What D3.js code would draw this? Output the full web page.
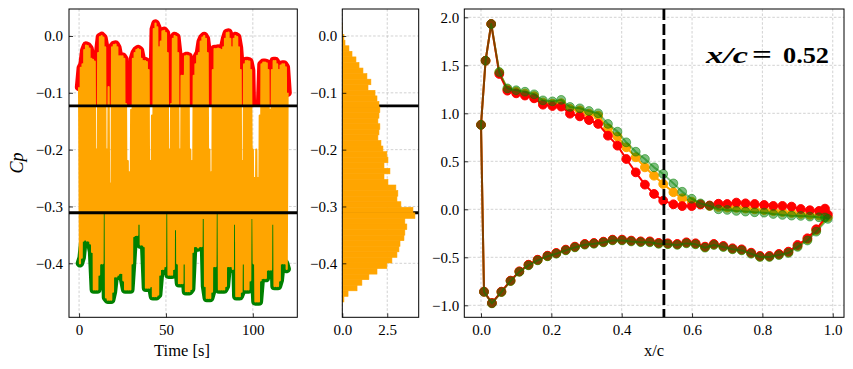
<!DOCTYPE html>
<html><head><meta charset="utf-8">
<script src="https://cdn.jsdelivr.net/npm/d3@7"></script>
<style>
html,body{margin:0;padding:0;background:#fff;}
svg{display:block;}
</style></head><body>
<svg id="chart" width="853" height="369"></svg>
<script>
// ---------------- DATA ----------------
// Panel 1: Cp time series at x/c = 0.52, local maxima (at t = 0,1,...,120 s) and local minima (at t = 0.5,1.5,...)
const sampleStep = 1; // s
const cpPeakHigh = [
 -0.09,-0.056,-0.05,-0.025,-0.017,-0.018,-0.022,-0.04,-0.042,-0.045,
 -0.2,-0.03,-0.002,0.0,-0.003,-0.02,-0.2,-0.09,-0.26,-0.02,
 -0.016,-0.015,-0.02,-0.036,-0.036,-0.036,-0.04,-0.12,-0.22,-0.24,
 -0.13,-0.04,-0.03,-0.025,-0.023,-0.025,-0.04,-0.044,-0.044,-0.046,
 -0.06,-0.22,-0.14,0.012,0.022,0.015,-0.02,-0.01,0.008,0.009,
 0.005,-0.03,-0.2,-0.12,-0.005,0.0,-0.002,-0.03,-0.2,-0.07,
 -0.07,-0.036,-0.035,-0.036,-0.2,-0.22,-0.07,-0.05,-0.035,-0.03,
 -0.01,-0.003,0.0,-0.005,-0.03,-0.2,-0.24,-0.06,-0.023,-0.023,
 -0.022,-0.023,-0.025,-0.02,-0.005,0.005,0.006,-0.005,-0.02,-0.005,
 0.0,-0.002,-0.02,-0.06,-0.22,-0.05,-0.044,-0.044,-0.045,-0.06,
 -0.2,-0.25,-0.2,-0.25,-0.14,-0.05,-0.047,-0.047,-0.048,-0.06,
 -0.13,-0.06,-0.044,-0.044,-0.05,-0.06,-0.052,-0.05,-0.05,-0.055,
 -0.1];
const cpPeakLow = [
 -0.40,-0.39,-0.36,-0.358,-0.36,-0.36,-0.365,-0.38,-0.446,-0.446,
 -0.446,-0.42,-0.40,-0.40,-0.31,-0.46,-0.464,-0.464,-0.464,-0.45,
 -0.423,-0.423,-0.42,-0.417,-0.417,-0.43,-0.446,-0.446,-0.446,-0.446,
 -0.40,-0.352,-0.35,-0.35,-0.33,-0.367,-0.367,-0.37,-0.443,-0.443,
 -0.443,-0.44,-0.458,-0.458,-0.458,-0.455,-0.42,-0.41,-0.41,-0.405,
 -0.31,-0.42,-0.42,-0.42,-0.41,-0.34,-0.40,-0.435,-0.435,-0.435,
 -0.40,-0.449,-0.449,-0.449,-0.445,-0.38,-0.37,-0.37,-0.372,-0.37,
 -0.37,-0.32,-0.44,-0.461,-0.461,-0.461,-0.45,-0.405,-0.405,-0.31,
 -0.446,-0.446,-0.446,-0.446,-0.44,-0.405,-0.405,-0.405,-0.41,-0.33,
 -0.458,-0.458,-0.458,-0.45,-0.40,-0.446,-0.446,-0.446,-0.43,-0.32,
 -0.40,-0.467,-0.467,-0.467,-0.43,-0.426,-0.426,-0.426,-0.411,-0.411,
 -0.411,-0.33,-0.44,-0.44,-0.44,-0.43,-0.40,-0.40,-0.40,-0.41];
const thrHigh = -0.123, thrLow = -0.311;

// Panel 2: histogram (density) of Cp
const histBinStart = -0.468, histBinWidth = 0.0098;
const histDensity = [0.09,0.32,0.82,1.09,1.48,1.93,2.48,2.76,3.04,3.15,
 3.21,3.43,3.48,3.59,3.48,4.04,3.93,3.26,3.04,3.09,
 2.98,2.54,2.32,2.65,2.32,2.54,2.48,2.26,2.15,1.98,
 2.04,2.09,1.98,2.04,2.09,2.04,1.93,1.82,1.43,1.59,
 1.37,1.15,0.93,0.76,0.54,0.37,0.15,0.09,0.02,0.01];

// Panel 3: chordwise distribution (upper surface LE->TE, then lower surface TE->LE)
const xcUpper = [0,0.013,0.029,0.052,0.075,0.1,0.125,0.151,0.176,0.203,0.228,0.253,0.281,0.307,0.333,0.361,0.388,0.413,0.44,0.466,0.492,0.518,0.547,0.572,0.599,0.624,0.65,0.675,0.7,0.726,0.752,0.778,0.805,0.831,0.857,0.883,0.909,0.935,0.961,0.978,0.986];
const xcLower = [0.953,0.928,0.9,0.874,0.847,0.82,0.793,0.768,0.741,0.715,0.689,0.662,0.637,0.61,0.584,0.558,0.531,0.505,0.48,0.454,0.427,0.401,0.374,0.348,0.321,0.295,0.267,0.241,0.214,0.189,0.161,0.135,0.109,0.084,0.058,0.031,0.0085];
const meanUpper = [0.88,1.548,1.93,1.425,1.25,1.225,1.205,1.178,1.112,1.1,1.105,1.045,1.03,0.996,0.975,0.843,0.757,0.646,0.542,0.437,0.35,0.264,0.178,0.115,0.08,0.052,0.036,0.025,0.018,0.016,0.008,0.0,-0.008,-0.018,-0.028,-0.038,-0.048,-0.058,-0.064,-0.06,-0.08];
const meanLower = [-0.218,-0.312,-0.382,-0.448,-0.471,-0.492,-0.492,-0.458,-0.423,-0.412,-0.388,-0.367,-0.395,-0.36,-0.35,-0.366,-0.359,-0.355,-0.339,-0.338,-0.33,-0.32,-0.32,-0.341,-0.355,-0.365,-0.393,-0.424,-0.459,-0.487,-0.529,-0.58,-0.649,-0.745,-0.86,-0.978,-0.859];
const highUpper = [0.88,1.548,1.93,1.41,1.236,1.208,1.185,1.156,1.09,1.076,1.07,0.996,0.968,0.93,0.889,0.767,0.663,0.524,0.385,0.257,0.16,0.09,0.052,0.034,0.034,0.05,0.04,0.058,0.055,0.07,0.062,0.055,0.045,0.035,0.035,0.028,0.003,-0.01,-0.017,0.007,-0.055];
const highLower = [-0.208,-0.302,-0.372,-0.441,-0.465,-0.486,-0.486,-0.452,-0.417,-0.406,-0.382,-0.361,-0.389,-0.354,-0.344,-0.361,-0.354,-0.35,-0.334,-0.334,-0.326,-0.316,-0.316,-0.337,-0.351,-0.361,-0.389,-0.42,-0.455,-0.483,-0.525,-0.577,-0.646,-0.743,-0.858,-0.976,-0.858];
const lowUpper = [0.88,1.548,1.93,1.43,1.26,1.24,1.225,1.198,1.135,1.125,1.14,1.066,1.052,1.024,1.0,0.889,0.809,0.698,0.6,0.524,0.437,0.368,0.27,0.183,0.11,0.062,0.035,0.0,-0.007,-0.017,-0.024,-0.031,-0.035,-0.049,-0.059,-0.066,-0.069,-0.076,-0.083,-0.085,-0.10];
const lowLower = [-0.233,-0.325,-0.392,-0.455,-0.477,-0.497,-0.497,-0.463,-0.428,-0.417,-0.393,-0.372,-0.4,-0.365,-0.355,-0.371,-0.364,-0.36,-0.344,-0.343,-0.335,-0.325,-0.324,-0.345,-0.359,-0.369,-0.397,-0.428,-0.463,-0.49,-0.532,-0.584,-0.652,-0.748,-0.862,-0.98,-0.86];
const probeXc = 0.52;

// Tick values
const p1XTicks = [0,50,100];
const cpTicks = [-0.4,-0.3,-0.2,-0.1,0.0];
const p2XTicks = [0,2.5];
const p3XTicks = [0,0.2,0.4,0.6,0.8,1.0];
const p3YTicks = [-1.0,-0.5,0.0,0.5,1.0,1.5,2.0];

// ---------------- DRAWING ----------------
const FONT = '"Liberation Serif","Times New Roman",serif';
const ORANGE = '#ffa500', RED = '#ff0000', GREEN = '#008000';
const svg = d3.select('#chart');

const P1 = {l:69, r:297.3, t:9, b:317.3};
const P2 = {l:342.3, r:418.7, t:9, b:317.3};
const P3 = {l:464.3, r:844, t:9, b:317.3};

const x1 = d3.scaleLinear([-5.8,125.6],[P1.l,P1.r]);
const yCp = d3.scaleLinear([-0.495,0.0475],[P1.b,P1.t]);
const x2 = d3.scaleLinear([0,4.25],[P2.l,P2.r]);
const x3 = d3.scaleLinear([-0.0475,1.032],[P3.l,P3.r]);
const y3 = d3.scaleLinear([-1.125,2.0865],[P3.b,P3.t]);

const defs = svg.append('defs');
function clip(id, x, y, w, h){
  defs.append('clipPath').attr('id',id).append('rect').attr('x',x).attr('y',y).attr('width',w).attr('height',h);
  return `url(#${id})`;
}

function grid(P, xs, ys, xt, yt){
  const g = svg.append('g').attr('stroke','#b4b4b4').attr('stroke-width',0.6).attr('stroke-dasharray','2.6,1.8');
  xt.forEach(v=>g.append('line').attr('x1',xs(v)).attr('x2',xs(v)).attr('y1',P.t).attr('y2',P.b));
  yt.forEach(v=>g.append('line').attr('y1',ys(v)).attr('y2',ys(v)).attr('x1',P.l).attr('x2',P.r));
}
function axes(P, xs, ys, xt, yt, xf, yf, padL){
  const gx = svg.append('g').attr('transform',`translate(0,${P.b})`)
    .call(d3.axisBottom(xs).tickValues(xt).tickFormat(xf).tickSize(-4).tickPadding(7));
  const gy = svg.append('g').attr('transform',`translate(${P.l},0)`)
    .call(d3.axisLeft(ys).tickValues(yt).tickFormat(yf).tickSize(-4).tickPadding(padL));
  [gx,gy].forEach(g=>{
    g.select('.domain').remove();
    g.attr('font-family',FONT).attr('font-size',15);
    g.selectAll('line').attr('stroke','#000').attr('stroke-width',0.8);
    g.selectAll('text').attr('fill','#000');
  });
  svg.append('rect').attr('x',P.l).attr('y',P.t).attr('width',P.r-P.l).attr('height',P.b-P.t)
    .attr('fill','none').attr('stroke','#000').attr('stroke-width',1);
}

// ----- Panel 1 -----
grid(P1, x1, yCp, p1XTicks, cpTicks);
const highPts = cpPeakHigh.map((v,i)=>({t:i*sampleStep, v}));
const lowPts = cpPeakLow.map((v,i)=>({t:(i+0.5)*sampleStep, v}));
const series = [];
highPts.forEach((d,i)=>{ series.push(d); if(lowPts[i]) series.push(lowPts[i]); });
const line1 = d3.line().x(d=>x1(d.t)).y(d=>yCp(d.v));
const g1 = svg.append('g').attr('clip-path', clip('c1',P1.l,P1.t,P1.r-P1.l,P1.b-P1.t));
g1.append('path').datum(highPts).attr('d',line1)
  .attr('fill','none').attr('stroke',RED).attr('stroke-width',8.5).attr('stroke-linejoin','round').attr('stroke-linecap','round')
  .attr('clip-path', clip('cHi',P1.l,P1.t,P1.r-P1.l,yCp(thrHigh)-P1.t));
g1.append('path').datum(lowPts).attr('d',line1)
  .attr('fill','none').attr('stroke',GREEN).attr('stroke-width',8.5).attr('stroke-linejoin','round').attr('stroke-linecap','round')
  .attr('clip-path', clip('cLo',P1.l,yCp(thrLow),P1.r-P1.l,P1.b-yCp(thrLow)));
g1.append('path').datum(series).attr('d',line1)
  .attr('fill','none').attr('stroke',ORANGE).attr('stroke-width',2.2).attr('stroke-linejoin','round');
[thrHigh,thrLow].forEach(v=>g1.append('line').attr('x1',P1.l).attr('x2',P1.r).attr('y1',yCp(v)).attr('y2',yCp(v))
  .attr('stroke','#000').attr('stroke-width',2.8));
axes(P1, x1, yCp, p1XTicks, cpTicks, d3.format('d'), d3.format('.1f'), 6);

// ----- Panel 2 -----
grid(P2, x2, yCp, p2XTicks, cpTicks);
const g2 = svg.append('g').attr('clip-path', clip('c2',P2.l,P2.t,P2.r-P2.l,P2.b-P2.t));
[thrHigh,thrLow].forEach(v=>g2.append('line').attr('x1',P2.l).attr('x2',P2.r).attr('y1',yCp(v)).attr('y2',yCp(v))
  .attr('stroke','#000').attr('stroke-width',2.8));
g2.selectAll('rect.bar').data(histDensity).join('rect').attr('class','bar')
  .attr('x',x2(0))
  .attr('y',(d,i)=>yCp(histBinStart+(i+1)*histBinWidth))
  .attr('width',d=>x2(d)-x2(0))
  .attr('height',(d,i)=>yCp(histBinStart+i*histBinWidth)-yCp(histBinStart+(i+1)*histBinWidth))
  .attr('fill',ORANGE).attr('stroke',ORANGE).attr('stroke-width',0.6);
axes(P2, x2, yCp, p2XTicks, cpTicks, d3.format('.1f'), d3.format('.1f'), 5);

// ----- Panel 3 -----
grid(P3, x3, y3, p3XTicks, p3YTicks);
const xcAll = xcUpper.concat(xcLower);
const g3 = svg.append('g').attr('clip-path', clip('c3',P3.l,P3.t,P3.r-P3.l,P3.b-P3.t));
const line3 = d3.line().x(d=>x3(d.x)).y(d=>y3(d.v)).curve(d3.curveLinearClosed);
const dist = [
  {vals: meanUpper.concat(meanLower), color: ORANGE, op: 1},
  {vals: highUpper.concat(highLower), color: RED, op: 1},
  {vals: lowUpper.concat(lowLower), color: GREEN, op: 0.5}
];
dist.forEach(s=>{
  const pts = s.vals.map((v,i)=>({x:xcAll[i], v}));
  g3.append('path').datum(pts).attr('d',line3).attr('fill','none')
    .attr('stroke',s.color).attr('stroke-opacity',s.op).attr('stroke-width',2).attr('stroke-linejoin','round');
  g3.append('g').selectAll('circle').data(pts).join('circle')
    .attr('cx',d=>x3(d.x)).attr('cy',d=>y3(d.v)).attr('r',4.4)
    .attr('fill',s.color).attr('fill-opacity',s.op)
    .attr('stroke',s.color).attr('stroke-opacity',s.op).attr('stroke-width',1);
});
g3.append('line').attr('x1',x3(probeXc)).attr('x2',x3(probeXc)).attr('y1',P3.t).attr('y2',P3.b)
  .attr('stroke','#000').attr('stroke-width',2.8).attr('stroke-dasharray','11,4');
axes(P3, x3, y3, p3XTicks, p3YTicks, d3.format('.1f'), d3.format('.1f'), 5);

// annotation
const ann = svg.append('g').attr('font-family',FONT).attr('font-weight','bold').attr('font-size',23).attr('fill','#000');
ann.append('text').attr('x',706).attr('y',63).attr('font-style','italic')
  .attr('textLength',42).attr('lengthAdjust','spacingAndGlyphs').text('x/c');
ann.append('text').attr('x',762).attr('y',63).attr('text-anchor','middle').attr('font-size',26)
  .attr('textLength',20).attr('lengthAdjust','spacingAndGlyphs').text('=');
ann.append('text').attr('x',783).attr('y',63)
  .attr('textLength',46).attr('lengthAdjust','spacingAndGlyphs').text('0.52');

// axis labels
svg.append('text').attr('x',182).attr('y',356).attr('text-anchor','middle')
  .attr('font-family',FONT).attr('font-size',16.5).text('Time [s]');
svg.append('text').attr('x',654).attr('y',356).attr('text-anchor','middle')
  .attr('font-family',FONT).attr('font-size',16.5).text('x/c');
svg.append('text').attr('transform','translate(23,163) rotate(-90)').attr('text-anchor','middle')
  .attr('font-family',FONT).attr('font-style','italic').attr('font-size',18).text('Cp');
</script></body></html>
